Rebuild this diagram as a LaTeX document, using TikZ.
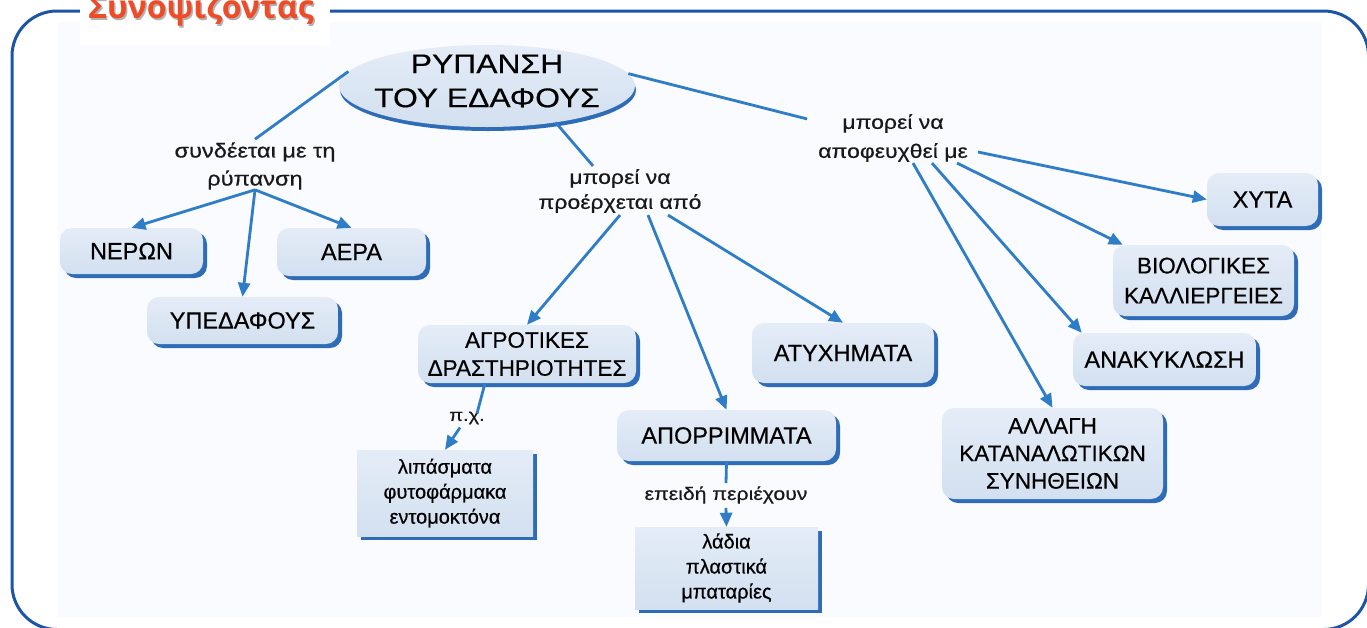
\documentclass[tikz,border=0pt]{standalone}
\usepackage{fontspec}
\setmainfont{Liberation Sans}[FakeBold=0.5]
\newfontfamily\widefont{Liberation Sans}[FakeStretch=1.18,FakeBold=0.5]
\newfontfamily\titlefont{Open Sans}
\usetikzlibrary{arrows.meta,shapes.geometric,shadows}
\definecolor{frameblue}{HTML}{1D55A6}
\definecolor{linkblue}{HTML}{2E7DC6}
\definecolor{shadowblue}{HTML}{2F6CB7}
\definecolor{nodetop}{HTML}{E4ECF7}
\definecolor{nodebot}{HTML}{D3E0F0}
\definecolor{titleorange}{HTML}{EE4B26}
\definecolor{panelc}{HTML}{F9FBFE}
\tikzset{
  concept/.style={rectangle, rounded corners=12pt, top color=nodetop, bottom color=nodebot,
    draw=none, drop shadow={fill=shadowblue, opacity=1, shadow xshift=4pt, shadow yshift=-4pt},
    align=center, inner sep=0pt, font=\fontsize{23.5}{28}\selectfont},
  exbox/.style={rectangle, top color=nodetop, bottom color=nodebot,
    draw=none, drop shadow={fill=shadowblue, opacity=1, shadow xshift=4pt, shadow yshift=-4pt},
    align=center, inner sep=0pt, font=\fontsize{20}{25}\selectfont},
  lbl/.style={align=center, inner sep=0pt, text=black!90},
  link/.style={draw=linkblue, line width=2.8pt},
  arr/.style={link, -{Triangle[length=14pt,width=12pt]}},
}
\begin{document}
\begin{tikzpicture}[x=1pt,y=-1pt]
\useasboundingbox (0,0) rectangle (1367,627);
\clip (0,0) rectangle (1367,627);
% panel and frame
\fill[panelc] (58,22) rectangle (1322,617);
\draw[frameblue, line width=3pt, rounded corners=45pt] (12,11) rectangle (1368.5,629.5);
\fill[white] (80,0) rectangle (330,45);
\node[anchor=base west, inner sep=0pt, text=black!30, font=\titlefont\bfseries\fontsize{32}{32}\selectfont] (titleshadow) at (89.5,20) {Συνοψίζοντας};
\node[anchor=base west, inner sep=0pt, text=titleorange, font=\titlefont\bfseries\fontsize{32}{32}\selectfont] (title) at (88,18) {Συνοψίζοντας};

% central ellipse
\node[ellipse, minimum width=296pt, minimum height=82pt, inner sep=0pt, top color=nodetop, bottom color=nodebot,
  drop shadow={fill=shadowblue, opacity=1, shadow xshift=1pt, shadow yshift=-4pt}] (ell) at (487,86) {};
\node[align=center, inner sep=0pt, font=\widefont\fontsize{27}{34}\selectfont] (elltext) at (487,81) {ΡΥΠΑΝΣΗ\\ΤΟΥ ΕΔΑΦΟΥΣ};

% linking phrases
\node[lbl, font=\widefont\fontsize{20}{28}\selectfont] (lab1) at (255,166) {συνδέεται με τη\\ρύπανση};
\node[lbl, font=\widefont\fontsize{19.5}{25}\selectfont] (lab2) at (620,191) {μπορεί να\\προέρχεται από};
\node[lbl, font=\widefont\fontsize{19.5}{29}\selectfont] (lab3) at (893,138) {μπορεί να\\αποφευχθεί με};
\node[lbl, font=\widefont\fontsize{17}{20}\selectfont] (px) at (467,418) {π.χ.};
\node[lbl, font=\widefont\fontsize{18}{20}\selectfont] (eplab) at (726,495) {επειδή περιέχουν};

% concepts
\node[concept, minimum width=143pt, minimum height=46pt] (ner) at (131.5,251) {ΝΕΡΩΝ};
\node[concept, minimum width=149pt, minimum height=48pt] (aer) at (351.5,252) {ΑΕΡΑ};
\node[concept, minimum width=191pt, minimum height=47pt] (ype) at (242.5,320.5) {ΥΠΕΔΑΦΟΥΣ};
\node[concept, minimum width=218pt, minimum height=58pt, font=\fontsize{22.5}{28}\selectfont] (agr) at (527,354) {ΑΓΡΟΤΙΚΕΣ\\ΔΡΑΣΤΗΡΙΟΤΗΤΕΣ};
\node[concept, minimum width=182pt, minimum height=60pt] (aty) at (843,353) {ΑΤΥΧΗΜΑΤΑ};
\node[concept, minimum width=219pt, minimum height=51pt] (apo) at (726.5,435.5) {ΑΠΟΡΡΙΜΜΑΤΑ};
\node[exbox, minimum width=176pt, minimum height=86pt] (lip) at (445,493) {λιπάσματα\\φυτοφάρμακα\\εντομοκτόνα};
\node[exbox, minimum width=183pt, minimum height=82pt] (lad) at (726.5,568) {λάδια\\πλαστικά\\μπαταρίες};
\node[concept, minimum width=111pt, minimum height=53pt] (xyta) at (1262.5,199.5) {ΧΥΤΑ};
\node[concept, minimum width=181pt, minimum height=71pt, font=\fontsize{22.5}{30}\selectfont] (bio) at (1203.5,280.5) {ΒΙΟΛΟΓΙΚΕΣ\\ΚΑΛΛΙΕΡΓΕΙΕΣ};
\node[concept, minimum width=183pt, minimum height=53pt] (ana) at (1164.5,359.5) {ΑΝΑΚΥΚΛΩΣΗ};
\node[concept, minimum width=221pt, minimum height=91pt, font=\fontsize{22.5}{27.5}\selectfont] (all) at (1052.5,453.5) {ΑΛΛΑΓΗ\\ΚΑΤΑΝΑΛΩΤΙΚΩΝ\\ΣΥΝΗΘΕΙΩΝ};

% connectors
\draw[link] (ell.174) -- ([yshift=3pt]lab1.north);
\draw[arr] (lab1.south) -- (ner.north);
\draw[arr] (lab1.south) -- (ype.north);
\draw[arr] (lab1.south) -- (aer.north);

\draw[link] (ell.-28) -- ([xshift=-27pt,yshift=3pt]lab2.north);
\draw[arr] ([yshift=-2pt]lab2.south) -- (agr.north);
\draw[arr] ([xshift=28pt,yshift=-2pt]lab2.south) -- (apo.north);
\draw[arr] ([xshift=48pt,yshift=-2pt]lab2.south) -- (aty.north);

\draw[link] (ell.5) -- ([xshift=-11pt,yshift=-5pt]lab3.north west);
\draw[arr] ([xshift=10pt,yshift=-14pt]lab3.east) -- (xyta.west);
\draw[arr] ([xshift=64pt,yshift=-1pt]lab3.south) -- ([xshift=10pt]bio.north west);
\draw[arr] ([xshift=39pt,yshift=-1pt]lab3.south) -- ([xshift=9pt]ana.north west);
\draw[arr] ([xshift=20pt,yshift=-1pt]lab3.south) -- (all.north);

\draw[link] ([xshift=-42pt]agr.south) -- ([xshift=10pt,yshift=-2pt]px.north);
\draw[arr] ([xshift=-7pt,yshift=-3pt]px.south) -- (lip.north);
\draw[link] (apo.south) -- ([yshift=3pt]eplab.north);
\draw[arr] ([yshift=-4pt]eplab.south) -- (lad.north);
\end{tikzpicture}
\end{document}
